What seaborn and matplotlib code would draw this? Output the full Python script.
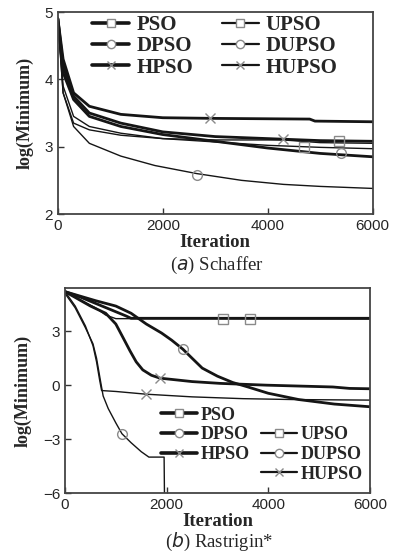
import matplotlib
matplotlib.use("Agg")
import matplotlib.pyplot as plt
from matplotlib.lines import Line2D
import seaborn as sns
import pandas as pd

# ---- (a) Schaffer ----
sch_pso_x = [0, 100, 300, 600, 1200, 2000, 3000, 4000, 5000, 6000]
sch_pso_y = [4.9, 4.2, 3.75, 3.5, 3.35, 3.22, 3.15, 3.12, 3.09, 3.08]
sch_dpso_x = [0, 100, 300, 600, 1200, 2000, 3000, 4000, 5000, 6000]
sch_dpso_y = [4.9, 4.1, 3.7, 3.45, 3.3, 3.18, 3.08, 2.98, 2.9, 2.85]
sch_hpso_x = [0, 100, 300, 600, 1200, 2000, 3000, 4800, 4900, 6000]
sch_hpso_y = [4.9, 4.3, 3.8, 3.6, 3.48, 3.43, 3.42, 3.41, 3.38, 3.37]
sch_upso_x = [0, 100, 300, 600, 1200, 2000, 3000, 4000, 5000, 6000]
sch_upso_y = [4.9, 3.9, 3.45, 3.3, 3.2, 3.12, 3.07, 3.02, 2.99, 2.97]
sch_dupso_x = [0, 100, 300, 600, 1200, 1850, 2650, 3500, 4300, 5000, 6000]
sch_dupso_y = [4.9, 3.8, 3.3, 3.05, 2.86, 2.72, 2.6, 2.5, 2.44, 2.41, 2.38]
sch_hupso_x = [0, 100, 300, 600, 1200, 2000, 3000, 4300, 5000, 6000]
sch_hupso_y = [4.9, 3.8, 3.35, 3.25, 3.17, 3.12, 3.1, 3.1, 3.06, 3.05]

# marker points (PSO, DPSO, HPSO, UPSO, DUPSO, HUPSO)
sch_mark_x = [5350, 5400, 2900, 4700, 2650, 4300]
sch_mark_y = [3.08, 2.9, 3.42, 3.0, 2.58, 3.12]

# ---- (b) Rastrigin* ----
ras_pso_x = [0, 300, 600, 900, 1200, 1300, 6000]
ras_pso_y = [5.2, 4.9, 4.55, 4.2, 3.85, 3.72, 3.72]
ras_dpso_x = [0, 300, 600, 1000, 1300, 1600, 1900, 2100, 2320, 2500, 2700, 3000,
              3300, 3600, 4000, 4600, 5300, 6000]
ras_dpso_y = [5.2, 4.95, 4.7, 4.4, 4.0, 3.4, 2.9, 2.5, 2.0, 1.5, 0.95, 0.5,
              0.15, -0.1, -0.45, -0.8, -1.05, -1.2]
ras_hpso_x = [0, 500, 800, 1000, 1150, 1280, 1400, 1530, 1700, 1870, 2500, 3050,
              3970, 5270, 5600, 6000]
ras_hpso_y = [5.2, 4.4, 4.0, 3.4, 2.6, 1.9, 1.3, 0.85, 0.55, 0.39, 0.2, 0.1,
              0.0, -0.1, -0.18, -0.2]
ras_upso_x = [0, 300, 600, 800, 1000, 6000]
ras_upso_y = [5.2, 4.75, 4.3, 3.9, 3.7, 3.68]
ras_dupso_x = [0, 200, 400, 550, 620, 700, 750, 850, 1000, 1120, 1300, 1500,
               1650, 1950, 1960]
ras_dupso_y = [5.1, 4.3, 3.2, 2.3, 1.5, 0.2, -0.6, -1.3, -2.1, -2.7, -3.2, -3.7,
               -4.0, -4.0, -7.0]
ras_hupso_x = [0, 200, 400, 550, 620, 680, 720, 1000, 1590, 2500, 3500, 4500, 6000]
ras_hupso_y = [5.2, 4.4, 3.3, 2.2, 1.3, 0.3, -0.3, -0.35, -0.5, -0.65, -0.75, -0.8, -0.83]

ras_mark_x = [3100, 2320, 1870, 3650, 1120, 1590]
ras_mark_y = [3.7, 2.0, 0.39, 3.7, -2.7, -0.5]

names = ["PSO", "DPSO", "HPSO", "UPSO", "DUPSO", "HUPSO"]
marks = ["s", "o", "x", "s", "o", "x"]
widths = [2.0, 2.0, 2.0, 1.0, 1.0, 1.0]

sns.set_style("ticks")
plt.rcParams["font.family"] = ["Liberation Sans", "DejaVu Sans"]
serif = ["Liberation Serif", "DejaVu Serif"]
line_col = "#151515"
mark_col = "#8a8a8a"

fig = plt.figure(figsize=(3.99, 5.54), dpi=100)
ax1 = fig.add_axes([0.145, 0.6137, 0.789, 0.3646])
ax2 = fig.add_axes([0.163, 0.110, 0.764, 0.370])

sch = [(sch_pso_x, sch_pso_y), (sch_dpso_x, sch_dpso_y), (sch_hpso_x, sch_hpso_y),
       (sch_upso_x, sch_upso_y), (sch_dupso_x, sch_dupso_y), (sch_hupso_x, sch_hupso_y)]
ras = [(ras_pso_x, ras_pso_y), (ras_dpso_x, ras_dpso_y), (ras_hpso_x, ras_hpso_y),
       (ras_upso_x, ras_upso_y), (ras_dupso_x, ras_dupso_y), (ras_hupso_x, ras_hupso_y)]


def draw(ax, series, mx, my):
    for (x, y), lw in zip(series, widths):
        df = pd.DataFrame({"x": x, "y": y})
        sns.lineplot(data=df, x="x", y="y", ax=ax, color=line_col, lw=lw,
                     estimator=None, sort=False)
    for xm, ym, m in zip(mx, my, marks):
        ax.plot([xm], [ym], marker=m, ms=7, mfc="none", mec=mark_col, mew=1.0,
                ls="none", zorder=5)


def style(ax):
    ax.set_xlim(0, 6000)
    ax.set_xticks([0, 2000, 4000, 6000])
    ax.tick_params(direction="in", length=4, width=1, labelsize=11, color="#333333")
    for s in ax.spines.values():
        s.set_linewidth(1.3)
        s.set_color("#444444")
    ax.set_xlabel("Iteration", fontfamily=serif, fontweight="bold", fontsize=13.5, labelpad=1)
    ax.set_ylabel("log(Minimum)", fontfamily=serif, fontweight="bold", fontsize=13, labelpad=8)


def handles():
    hs = []
    for n, m, lw in zip(names, marks, widths):
        hs.append(Line2D([0], [0], color=line_col, lw=lw + 0.6, marker=m, ms=6,
                         mfc="white", mec=mark_col, mew=1.0, label=n))
    return hs


draw(ax1, sch, sch_mark_x, sch_mark_y)
style(ax1)
ax1.set_ylim(2, 5)
ax1.set_yticks([2, 3, 4, 5])
ax1.legend(handles=handles(), ncol=2, frameon=False, loc="upper left",
           bbox_to_anchor=(0.07, 1.045), prop={"family": serif, "weight": "bold", "size": 15},
           handlelength=1.75, handletextpad=0.35, columnspacing=1.4,
           labelspacing=0.05, borderaxespad=0.2)
fig.text(0.545, 0.52, r"($\it{a}$) Schaffer", ha="center", va="center",
         fontfamily=serif, fontsize=13.5)

draw(ax2, ras, ras_mark_x, ras_mark_y)
style(ax2)
ax2.set_ylim(-6, 5.4)
ax2.set_yticks([-6, -3, 0, 3])
hs = handles()
blank = Line2D([0], [0], color="none", label=" ")
ax2.legend(handles=hs[:3] + [blank, blank] + hs[3:], ncol=2, frameon=False,
           loc="upper left", bbox_to_anchor=(0.28, 0.475),
           prop={"family": serif, "weight": "bold", "size": 13},
           handlelength=2.0, handletextpad=0.2, columnspacing=0.6,
           labelspacing=0.15, borderaxespad=0.2)
fig.text(0.55, 0.022, r"($\it{b}$) Rastrigin*", ha="center", va="center",
         fontfamily=serif, fontsize=13.5)

fig.savefig("out.png", dpi=100)
